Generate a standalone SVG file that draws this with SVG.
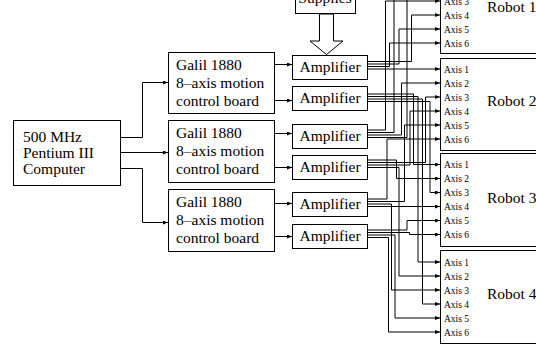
<svg xmlns="http://www.w3.org/2000/svg" width="536" height="348" viewBox="0 0 536 348">
<style>
.box{fill:#fff;stroke:#000;stroke-width:1}
.t{font-family:"Liberation Serif","Times New Roman",serif;font-size:15.5px;fill:#000}
.ax{font-family:"Liberation Serif","Times New Roman",serif;font-size:9.5px;fill:#000}
.w{fill:none;stroke:#000;stroke-width:1}
</style>
<defs>
<marker id="ah" markerWidth="6" markerHeight="4" refX="5" refY="2" orient="auto" markerUnits="userSpaceOnUse"><path d="M0,0 L5,2 L0,4 z" fill="#000"/></marker>
</defs>
<rect width="536" height="348" fill="#fff"/>
<g id="computer"><rect class="box" x="13.5" y="120.5" width="107" height="65"/>
<text class="t" x="23" y="142">500 MHz</text><text class="t" x="23" y="158">Pentium III</text><text class="t" x="23" y="174">Computer</text></g>
<g id="galil1"><rect class="box" x="168.5" y="52.5" width="106" height="61"/>
<text class="t" x="176" y="70">Galil 1880</text><text class="t" x="176" y="88">8–axis motion</text><text class="t" x="176" y="106">control board</text></g>
<g id="galil2"><rect class="box" x="168.5" y="120.5" width="106" height="62"/>
<text class="t" x="176" y="138">Galil 1880</text><text class="t" x="176" y="156">8–axis motion</text><text class="t" x="176" y="174">control board</text></g>
<g id="galil3"><rect class="box" x="168.5" y="189.5" width="106" height="62"/>
<text class="t" x="176" y="207">Galil 1880</text><text class="t" x="176" y="225">8–axis motion</text><text class="t" x="176" y="243">control board</text></g>
<g id="supplies"><rect class="box" x="295.5" y="-20.5" width="60" height="34"/><text class="t" x="325" y="3" text-anchor="middle">Supplies</text></g>
<g id="amp1"><rect class="box" x="292.5" y="55.5" width="75" height="24"/><text class="t" x="330" y="72" text-anchor="middle">Amplifier</text></g>
<g id="amp2"><rect class="box" x="292.5" y="86.5" width="75" height="24"/><text class="t" x="330" y="103" text-anchor="middle">Amplifier</text></g>
<g id="amp3"><rect class="box" x="292.5" y="124.5" width="75" height="24"/><text class="t" x="330" y="141" text-anchor="middle">Amplifier</text></g>
<g id="amp4"><rect class="box" x="292.5" y="155.5" width="75" height="24"/><text class="t" x="330" y="172" text-anchor="middle">Amplifier</text></g>
<g id="amp5"><rect class="box" x="292.5" y="192.5" width="75" height="24"/><text class="t" x="330" y="209" text-anchor="middle">Amplifier</text></g>
<g id="amp6"><rect class="box" x="292.5" y="224.5" width="75" height="24"/><text class="t" x="330" y="241" text-anchor="middle">Amplifier</text></g>
<g id="robot1"><rect class="box" x="440.5" y="-39.5" width="110" height="93"/><text class="t" x="487" y="11.5">Robot 1</text>
<text class="ax" x="444" y="4.5">Axis 3</text><text class="ax" x="444" y="18.5">Axis 4</text><text class="ax" x="444" y="32.5">Axis 5</text><text class="ax" x="444" y="46.5">Axis 6</text></g>
<g id="robot2"><rect class="box" x="440.5" y="58.5" width="110" height="92"/><text class="t" x="487" y="106">Robot 2</text>
<text class="ax" x="444" y="72.5">Axis 1</text><text class="ax" x="444" y="86.5">Axis 2</text><text class="ax" x="444" y="100.5">Axis 3</text><text class="ax" x="444" y="114.5">Axis 4</text><text class="ax" x="444" y="128.5">Axis 5</text><text class="ax" x="444" y="142.5">Axis 6</text></g>
<g id="robot3"><rect class="box" x="440.5" y="153.5" width="110" height="93"/><text class="t" x="487" y="203">Robot 3</text>
<text class="ax" x="444" y="168">Axis 1</text><text class="ax" x="444" y="182">Axis 2</text><text class="ax" x="444" y="196">Axis 3</text><text class="ax" x="444" y="210">Axis 4</text><text class="ax" x="444" y="224">Axis 5</text><text class="ax" x="444" y="238">Axis 6</text></g>
<g id="robot4"><rect class="box" x="440.5" y="250.5" width="110" height="93"/><text class="t" x="487" y="299">Robot 4</text>
<text class="ax" x="444" y="265.5">Axis 1</text><text class="ax" x="444" y="279.5">Axis 2</text><text class="ax" x="444" y="293.5">Axis 3</text><text class="ax" x="444" y="307.5">Axis 4</text><text class="ax" x="444" y="321.5">Axis 5</text><text class="ax" x="444" y="335.5">Axis 6</text></g>
<g id="connectors" class="w">
<polygon points="319.5,14 333.5,14 333.5,41 343,41 326.5,54.5 310,41 319.5,41" fill="#fff" stroke="#000"/>
<path class="w" marker-end="url(#ah)" d="M121,137.5 H142.5 V82.5 H168"/>
<path class="w" marker-end="url(#ah)" d="M121,152.5 H168"/>
<path class="w" marker-end="url(#ah)" d="M121,168.5 H142.5 V222.5 H168"/>
<path class="w" marker-end="url(#ah)" d="M275,64.5 H292"/>
<path class="w" marker-end="url(#ah)" d="M275,100.5 H292"/>
<path class="w" marker-end="url(#ah)" d="M275,133.5 H292"/>
<path class="w" marker-end="url(#ah)" d="M275,167.5 H292"/>
<path class="w" marker-end="url(#ah)" d="M275,203.5 H292"/>
<path class="w" marker-end="url(#ah)" d="M275,236.5 H292"/>
<path class="w" marker-end="url(#ah)" d="M368,61.5 H411.5 V15 H440"/>
<path class="w" marker-end="url(#ah)" d="M368,64 H399 V29 H440"/>
<path class="w" marker-end="url(#ah)" d="M368,66.5 H389.5 V43 H440"/>
<path class="w" marker-end="url(#ah)" d="M368,69 H440"/>
<path class="w" marker-end="url(#ah)" d="M368,94 H413.5 V164.5 H440"/>
<path class="w" marker-end="url(#ah)" d="M368,96.5 H418 V262 H440"/>
<path class="w" marker-end="url(#ah)" d="M368,99 H422.5 V304 H440"/>
<path class="w" marker-end="url(#ah)" d="M368,101.5 H430 V192.5 H440"/>
<path class="w" marker-end="url(#ah)" d="M368,130 H385.5 V1 H440"/>
<path class="w" marker-end="url(#ah)" d="M368,132.5 H394 V-13 H440"/>
<path class="w" marker-end="url(#ah)" d="M368,135 H401.5 V83 H440"/>
<path class="w" marker-end="url(#ah)" d="M368,137.5 H407 V-27 H440"/>
<path class="w" marker-end="url(#ah)" d="M368,160 H396.5 V178.5 H440"/>
<path class="w" marker-end="url(#ah)" d="M368,162.5 H425.5 V97 H440"/>
<path class="w" marker-end="url(#ah)" d="M368,165 H410 V111 H440"/>
<path class="w" marker-end="url(#ah)" d="M368,167.5 H399 V276 H440"/>
<path class="w" marker-end="url(#ah)" d="M368,199 H387 V139 H440"/>
<path class="w" marker-end="url(#ah)" d="M368,201.5 H404.5 V125 H440"/>
<path class="w" marker-end="url(#ah)" d="M368,204 H391.5 V290 H440"/>
<path class="w" marker-end="url(#ah)" d="M368,206.5 H440"/>
<path class="w" marker-end="url(#ah)" d="M368,230 H407 V220.5 H440"/>
<path class="w" marker-end="url(#ah)" d="M368,232.5 H409.5 V234.5 H440"/>
<path class="w" marker-end="url(#ah)" d="M368,235 H395 V318 H440"/>
<path class="w" marker-end="url(#ah)" d="M368,237.5 H388.5 V332 H440"/>
</g>
</svg>
